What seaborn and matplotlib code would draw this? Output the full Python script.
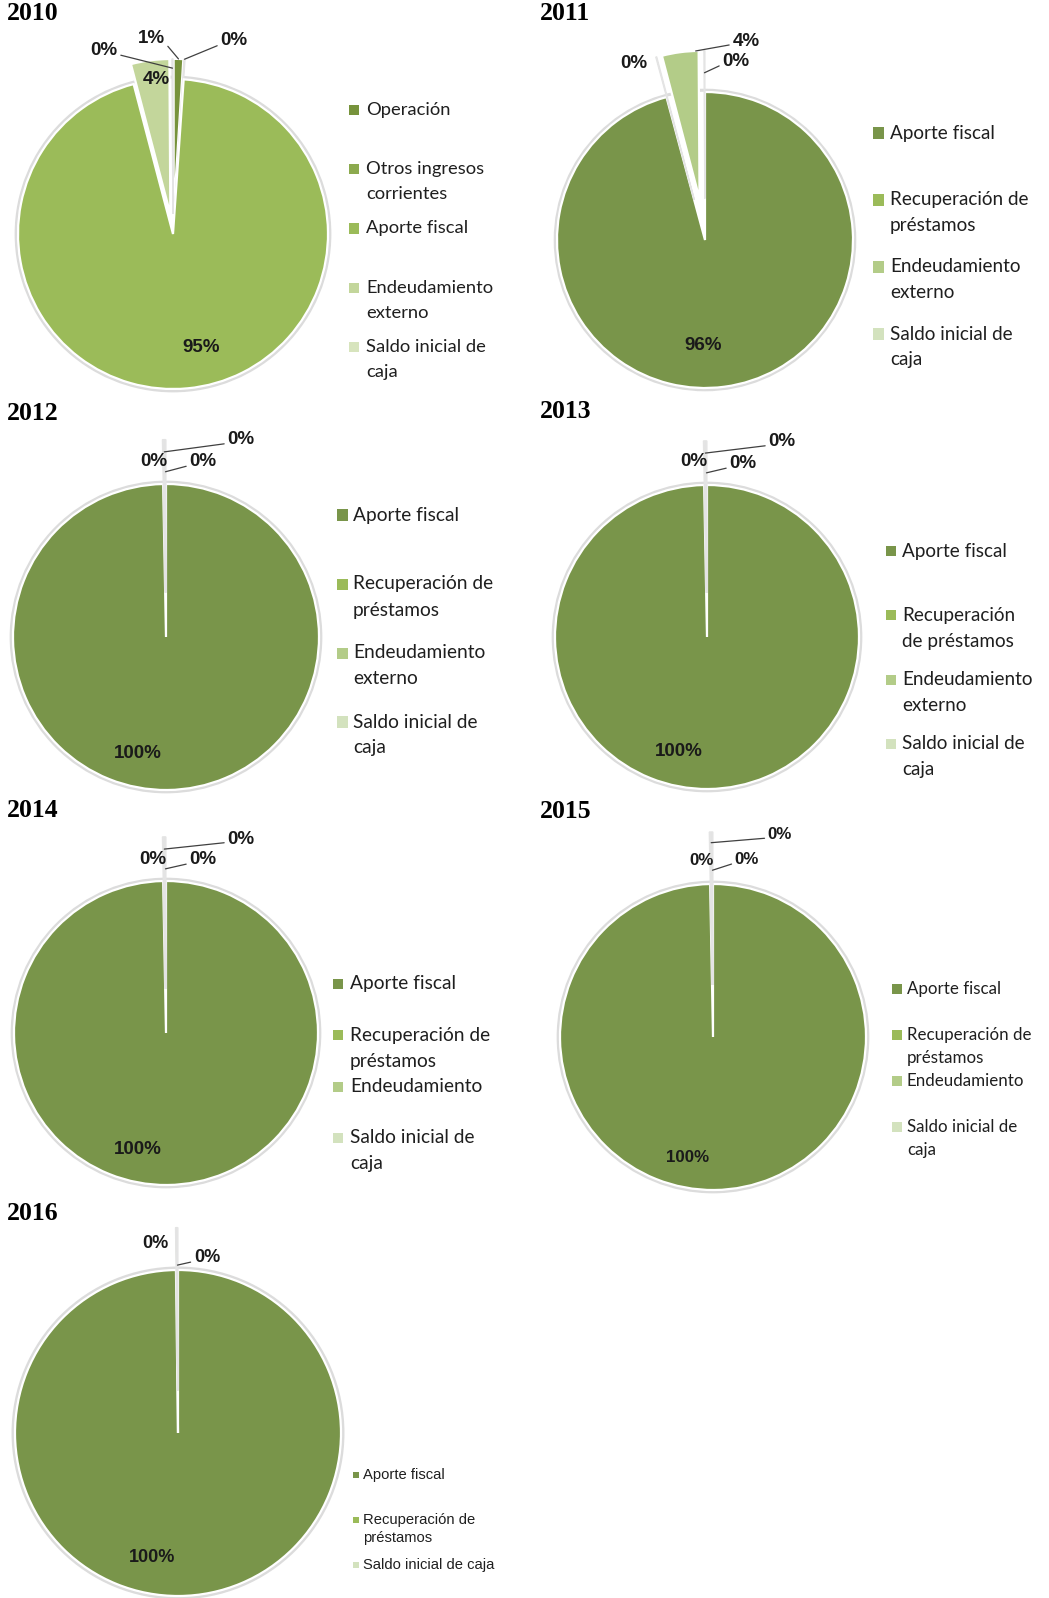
import numpy as np
import matplotlib
matplotlib.use("Agg")
import matplotlib.pyplot as plt
from matplotlib.patches import Rectangle, Circle
import seaborn as sns

# ---------------- DATA ----------------
years = ["2010", "2011", "2012", "2013", "2014", "2015", "2016"]

cats_2010 = ["Operación", "Otros ingresos\ncorrientes", "Aporte fiscal",
             "Endeudamiento\nexterno", "Saldo inicial de\ncaja"]
vals_2010 = [1, 0.1, 95, 4, 0.1]

cats_2011 = ["Aporte fiscal", "Recuperación de\npréstamos",
             "Endeudamiento\nexterno", "Saldo inicial de\ncaja"]
vals_2011 = [96, 0.1, 4, 0.1]

cats_2012 = ["Aporte fiscal", "Recuperación de\npréstamos",
             "Endeudamiento\nexterno", "Saldo inicial de\ncaja"]
vals_2012 = [100, 0.1, 0.1, 0.1]

cats_2013 = ["Aporte fiscal", "Recuperación\nde préstamos",
             "Endeudamiento\nexterno", "Saldo inicial de\ncaja"]
vals_2013 = [100, 0.1, 0.1, 0.1]

cats_2014 = ["Aporte fiscal", "Recuperación de\npréstamos",
             "Endeudamiento", "Saldo inicial de\ncaja"]
vals_2014 = [100, 0.1, 0.1, 0.1]

cats_2015 = ["Aporte fiscal", "Recuperación de\npréstamos",
             "Endeudamiento", "Saldo inicial de\ncaja"]
vals_2015 = [100, 0.1, 0.1, 0.1]

cats_2016 = ["Aporte fiscal", "Recuperación de\npréstamos", "Saldo inicial de caja"]
vals_2016 = [100, 0.1, 0.1]

# ---------------- STYLE ----------------
sns.set_theme(style="white")
plt.rcParams["font.family"] = ["Lato", "DejaVu Sans"]

col_2010 = ["#77933C", "#8CAA4E", "#9BBB59", "#C3D69B", "#D7E4BD"]
col_std4 = ["#79954A", "#9BBB59", "#B3CC88", "#D3E2BE"]
col_std3 = ["#79954A", "#9BBB59", "#D3E2BE"]

W, H = 1049, 1598
fig = plt.figure(figsize=(W / 100, H / 100), dpi=100)
fig.patch.set_facecolor("white")

# per chart layout (pixels)
charts = [
    dict(year="2010", cats=cats_2010, vals=vals_2010, cols=col_2010,
         title=(7, 14), c=(173, 234), r=155,
         explode=[0.13, 0.13, 0, 0.13, 0.13],
         labels=[  # (dx, dy) px from centre, leader relpos or None, (frac, k) target
             ((-22, -195), (1, 0.3), (0.5, 1.0)),
             ((61, -193), (0, 0.3), (0.5, 1.0)),
             ((28, 114), None, None),
             ((-17, -154), None, None),
             ((-69, -183), (1, 0.3), (0.5, 0.94)),
         ],
         leg=dict(mx=349, ms=10, tx=366, y0=110, step=59.25, ls=25, fs=13.2, fam="Lato"),
         lfs=13.5),
    dict(year="2011", cats=cats_2011, vals=vals_2011, cols=col_std4,
         title=(540, 14), c=(705, 240), r=148,
         explode=[0, 0.28, 0.28, 0.28],
         labels=[
             ((-2, 105), None, None),
             ((-71, -176), None, None),
             ((41, -199), (0, 0.3), (0.08, 1.0)),
             ((31, -179), (0, 0.3), (0.5, 0.85)),
         ],
         leg=dict(mx=873, ms=11, tx=890, y0=133, step=67, ls=26, fs=13.6, fam="Lato"),
         lfs=13.5),
    dict(year="2012", cats=cats_2012, vals=vals_2012, cols=col_std4,
         title=(7, 413), c=(166, 637), r=153,
         explode=[0, 0.29, 0.29, 0.29],
         labels=[
             ((-28, 116), None, None),
             ((-12, -175), None, None),
             ((75, -197), (0, 0.3), (0.5, 0.92)),
             ((37, -175), (0, 0.3), (0.5, 0.79)),
         ],
         leg=dict(mx=337, ms=11, tx=353, y0=515, step=69, ls=26, fs=13.8, fam="Lato"),
         lfs=13.5),
    dict(year="2013", cats=cats_2013, vals=vals_2013, cols=col_std4,
         title=(540, 412), c=(707, 637), r=152,
         explode=[0, 0.29, 0.29, 0.29],
         labels=[
             ((-28, 115), None, None),
             ((-13, -175), None, None),
             ((75, -195), (0, 0.3), (0.5, 0.92)),
             ((36, -173), (0, 0.3), (0.5, 0.79)),
         ],
         leg=dict(mx=886, ms=10, tx=902, y0=551, step=64.3, ls=26, fs=13.6, fam="Lato"),
         lfs=13.5),
    dict(year="2014", cats=cats_2014, vals=vals_2014, cols=col_std4,
         title=(7, 811), c=(166, 1033), r=152,
         explode=[0, 0.29, 0.29, 0.29],
         labels=[
             ((-28, 116), None, None),
             ((-13, -174), None, None),
             ((75, -194), (0, 0.3), (0.5, 0.92)),
             ((37, -173), (0, 0.3), (0.5, 0.79)),
         ],
         leg=dict(mx=333, ms=10, tx=350, y0=984, step=51.3, ls=26, fs=13.8, fam="Lato"),
         lfs=13.5),
    dict(year="2015", cats=cats_2015, vals=vals_2015, cols=col_std4,
         title=(540, 812), c=(713, 1037), r=153,
         explode=[0, 0.34, 0.34, 0.34],
         labels=[
             ((-25, 120), None, None),
             ((-11, -176), None, None),
             ((67, -202), (0, 0.3), (0.5, 0.93)),
             ((34, -177), (0, 0.3), (0.5, 0.75)),
         ],
         leg=dict(mx=892, ms=10, tx=907, y0=989, step=46, ls=23, fs=12.2, fam="Lato"),
         lfs=12.2),
    dict(year="2016", cats=cats_2016, vals=vals_2016, cols=col_std3,
         title=(7, 1213), c=(178, 1433), r=163,
         explode=[0, 0.26, 0.26],
         labels=[
             ((-26, 125), None, None),
             ((-23, -189), None, None),
             ((29, -175), (0, 0.3), (0.5, 0.77)),
         ],
         leg=dict(mx=353, ms=6, tx=363, y0=1475, step=45, ls=18, fs=10.6,
                  fam="Liberation Sans"),
         lfs=13.0),
]

L = 1.5
for ch in charts:
    cx, cy = ch["c"]
    r = ch["r"]
    half = L * r
    ax = fig.add_axes([(cx - half) / W, 1 - (cy + half) / H, 2 * half / W, 2 * half / H])
    ax.axis("off")

    # faint shadow ring
    ax.add_patch(Circle((0, 0), 1.012, facecolor="none", edgecolor="#dcdcdc",
                        lw=2.2, zorder=0))
    wedges, _ = ax.pie(ch["vals"], colors=ch["cols"], startangle=90,
                       counterclock=False, explode=ch["explode"], radius=1.0,
                       wedgeprops=dict(edgecolor="white", linewidth=1.6),
                       normalize=True)
    ax.set_xlim(-L, L)
    ax.set_ylim(-L, L)
    ax.set_aspect("equal")
    ax.axis("off")
    # exploded slices: white border with faint grey halo
    for w, e, v in zip(wedges, ch["explode"], ch["vals"]):
        if e > 0:
            if v < 0.5:
                w.set_edgecolor("#e4e4e4")
                w.set_linewidth(1.0)
            else:
                w.set_edgecolor("white")
                w.set_linewidth(1.6)
            w.set_zorder(1)

    for val, w, (off, relpos, tgt) in zip(ch["vals"], wedges, ch["labels"]):
        txt = f"{val:.0f}%"
        pos = (off[0] / r, -off[1] / r)
        kw = dict(fontsize=ch["lfs"], fontweight="bold", color="#1a1a1a",
                  family=["Liberation Sans"], ha="center", va="center", zorder=5)
        if relpos is None:
            ax.text(pos[0], pos[1], txt, **kw)
        else:
            frac, k = tgt
            th = np.deg2rad(w.theta1 + frac * (w.theta2 - w.theta1))
            wx, wy = w.center
            target = (wx + k * w.r * np.cos(th), wy + k * w.r * np.sin(th))
            ax.annotate(txt, xy=target, xytext=pos,
                        arrowprops=dict(arrowstyle="-", color="#404040", lw=0.9,
                                        shrinkA=0, shrinkB=0, relpos=relpos),
                        **kw)

    # title
    tx, ty = ch["title"]
    fig.text(tx / W, 1 - ty / H, ch["year"], fontsize=18.5, fontweight="bold",
             family=["Liberation Serif"], ha="left", va="center", color="black")

    # legend (manual, Excel-like evenly spaced slots)
    lg = ch["leg"]
    for i, (cat, col) in enumerate(zip(ch["cats"], ch["cols"])):
        y = lg["y0"] + i * lg["step"]
        s = lg["ms"]
        fig.add_artist(Rectangle((lg["mx"] / W, 1 - (y + s / 2) / H), s / W, s / H,
                                 transform=fig.transFigure, facecolor=col,
                                 edgecolor="none"))
        for j, line in enumerate(cat.split("\n")):
            fig.text(lg["tx"] / W, 1 - (y + j * lg["ls"]) / H, line,
                     fontsize=lg["fs"], family=[lg["fam"], "DejaVu Sans"],
                     ha="left", va="center", color="#1f1f1f")

fig.savefig("out.png", dpi=100, facecolor="white")
